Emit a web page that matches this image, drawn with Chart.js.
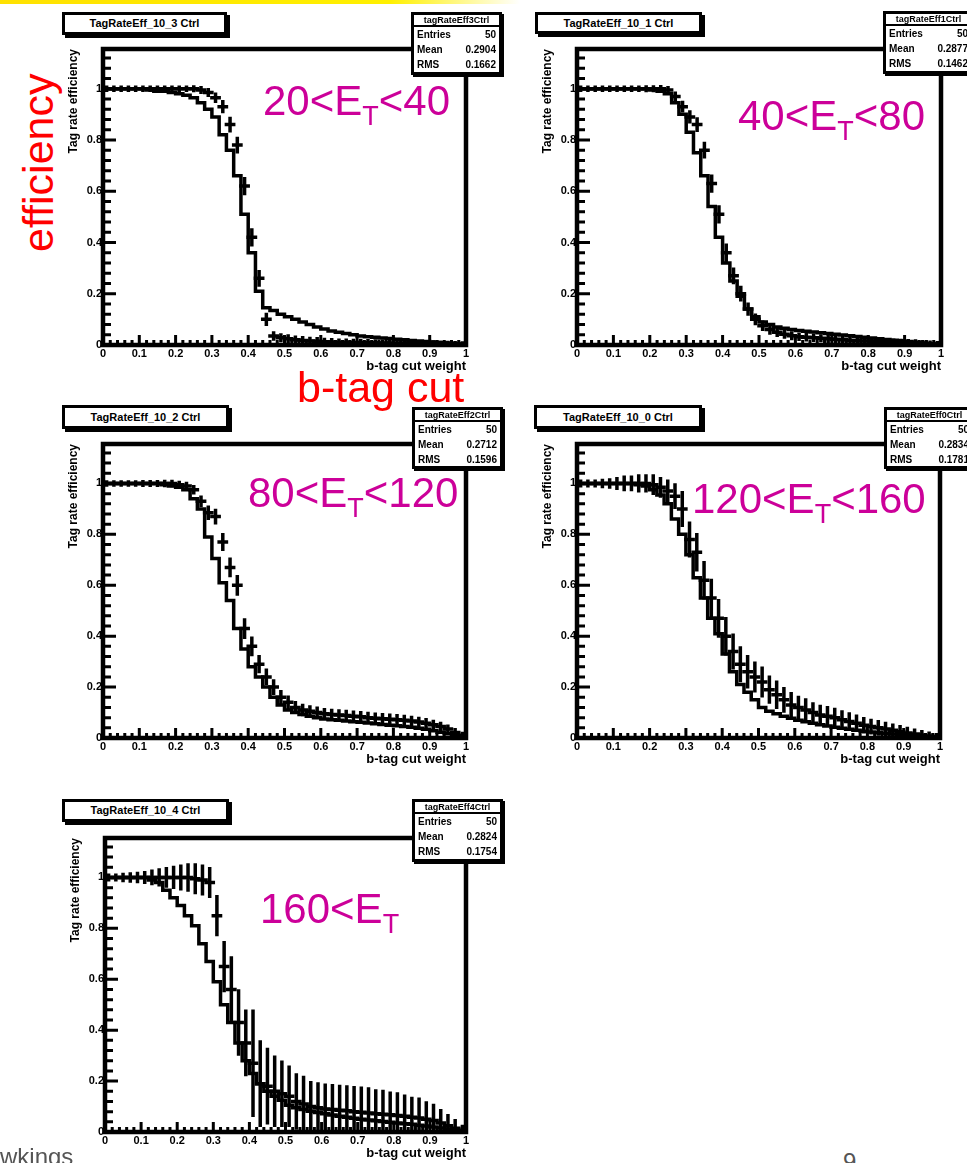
<!DOCTYPE html>
<html>
<head>
<meta charset="utf-8">
<script src="https://cdn.jsdelivr.net/npm/chart.js@4.4.1/dist/chart.umd.min.js"></script>
<style>
html,body{margin:0;padding:0;background:#fff;}
#slide{position:relative;width:967px;height:1163px;overflow:hidden;background:#fff;font-family:"Liberation Sans",Arial,sans-serif;}
#slide canvas{position:absolute;}
.topbar{position:absolute;left:0;top:0;width:520px;height:4px;background:linear-gradient(to right,#ffe100 0%,#fff000 75%,rgba(255,255,255,0) 100%);}
.tbox{position:absolute;box-sizing:border-box;border:3px solid #000;box-shadow:3px 3px 0 #000;background:#fff;font:bold 11px "Liberation Sans",Arial,sans-serif;text-align:center;white-space:nowrap;z-index:5;overflow:hidden;}
.sbox{position:absolute;box-sizing:border-box;border:3px solid #000;box-shadow:2px 2px 0 #000;background:#fff;font:bold 10px "Liberation Sans",Arial,sans-serif;z-index:5;padding:0 3px;white-space:nowrap;overflow:hidden;}
.sbox .h{border-bottom:2px solid #000;text-align:center;line-height:10px;margin:0 -3px;font-size:9px;}
.sbox .r{display:flex;justify-content:space-between;line-height:15px;}
.et{position:absolute;color:rgb(204,0,153);font:42px "Liberation Sans",Arial,sans-serif;line-height:42px;white-space:nowrap;z-index:6;}
.et span{font-size:27px;position:relative;top:10px;}
.red{position:absolute;color:#ff0000;font:43px "Liberation Sans",Arial,sans-serif;line-height:43px;white-space:nowrap;z-index:6;}
.foot{position:absolute;color:#555;font:24px "Liberation Sans",Arial,sans-serif;line-height:24px;white-space:nowrap;z-index:6;}
</style>
</head>
<body>
<div id="slide">
  <div class="topbar"></div>

  <div class="tbox" style="left:62px;top:12px;width:165px;height:23px;line-height:17px;">TagRateEff_10_3 Ctrl</div>
  <div class="tbox" style="left:535px;top:12px;width:167px;height:22px;line-height:16px;">TagRateEff_10_1 Ctrl</div>
  <div class="tbox" style="left:62px;top:405px;width:167px;height:24px;line-height:18px;">TagRateEff_10_2 Ctrl</div>
  <div class="tbox" style="left:534px;top:405px;width:168px;height:24px;line-height:18px;">TagRateEff_10_0 Ctrl</div>
  <div class="tbox" style="left:62px;top:799px;width:167px;height:23px;line-height:17px;">TagRateEff_10_4 Ctrl</div>

  <div class="sbox" style="left:411px;top:12px;width:91px;height:63px;">
    <div class="h">tagRateEff3Ctrl</div>
    <div class="r"><span>Entries</span><span>50</span></div>
    <div class="r"><span>Mean</span><span>0.2904</span></div>
    <div class="r"><span>RMS</span><span>0.1662</span></div>
  </div>
  <div class="sbox" style="left:883px;top:11px;width:91px;height:63px;">
    <div class="h">tagRateEff1Ctrl</div>
    <div class="r"><span>Entries</span><span>50</span></div>
    <div class="r"><span>Mean</span><span>0.2877</span></div>
    <div class="r"><span>RMS</span><span>0.1462</span></div>
  </div>
  <div class="sbox" style="left:412px;top:407px;width:91px;height:62px;">
    <div class="h">tagRateEff2Ctrl</div>
    <div class="r"><span>Entries</span><span>50</span></div>
    <div class="r"><span>Mean</span><span>0.2712</span></div>
    <div class="r"><span>RMS</span><span>0.1596</span></div>
  </div>
  <div class="sbox" style="left:884px;top:407px;width:91px;height:62px;">
    <div class="h">tagRateEff0Ctrl</div>
    <div class="r"><span>Entries</span><span>50</span></div>
    <div class="r"><span>Mean</span><span>0.2834</span></div>
    <div class="r"><span>RMS</span><span>0.1781</span></div>
  </div>
  <div class="sbox" style="left:412px;top:799px;width:91px;height:63px;">
    <div class="h">tagRateEff4Ctrl</div>
    <div class="r"><span>Entries</span><span>50</span></div>
    <div class="r"><span>Mean</span><span>0.2824</span></div>
    <div class="r"><span>RMS</span><span>0.1754</span></div>
  </div>

  <div class="et" style="left:263px;top:80px;">20&lt;E<span>T</span>&lt;40</div>
  <div class="et" style="left:738px;top:95px;">40&lt;E<span>T</span>&lt;80</div>
  <div class="et" style="left:248px;top:472px;">80&lt;E<span>T</span>&lt;120</div>
  <div class="et" style="left:692px;top:478px;">120&lt;E<span>T</span>&lt;160</div>
  <div class="et" style="left:260px;top:888px;">160&lt;E<span>T</span></div>

  <div class="red" style="left:17px;top:252px;transform-origin:0 0;transform:rotate(-90deg);">efficiency</div>
  <div class="red" style="left:297px;top:366px;">b-tag cut</div>

  <div class="foot" style="left:0px;top:1145px;">wkings</div>
  <div class="foot" style="left:843px;top:1150px;">9</div>
</div>

<script>
// ---------- axis categories / ticks ----------
const binLowEdges = [0.00,0.02,0.04,0.06,0.08,0.10,0.12,0.14,0.16,0.18,
                     0.20,0.22,0.24,0.26,0.28,0.30,0.32,0.34,0.36,0.38,
                     0.40,0.42,0.44,0.46,0.48,0.50,0.52,0.54,0.56,0.58,
                     0.60,0.62,0.64,0.66,0.68,0.70,0.72,0.74,0.76,0.78,
                     0.80,0.82,0.84,0.86,0.88,0.90,0.92,0.94,0.96,0.98];
const xAxisMax = 1;
const yAxisMax = 1.155;
const xTickValues = [0,0.1,0.2,0.3,0.4,0.5,0.6,0.7,0.8,0.9,1];
const xTickLabels = ["0","0.1","0.2","0.3","0.4","0.5","0.6","0.7","0.8","0.9","1"];
const yTickValues = [0,0.2,0.4,0.6,0.8,1];
const yTickLabels = ["0","0.2","0.4","0.6","0.8","1"];
const xTitle = "b-tag cut weight";
const yTitle = "Tag rate efficiency";

// ---------- 20 < ET < 40 ----------
const effA_20_40 = [1,1,1,1,1, 1,0.995,0.99,0.99,0.985,
  0.98,0.975,0.965,0.945,0.92, 0.89,0.82,0.76,0.66,0.51,
  0.36,0.21,0.145,0.135,0.12, 0.11,0.10,0.09,0.08,0.07,
  0.062,0.055,0.05,0.045,0.04, 0.035,0.032,0.03,0.027,0.025,
  0.022,0.02,0.018,0.016,0.014, 0.012,0.01,0.008,0.006,0.004];
const effB_20_40 = [1,1,1,1,1, 1,1,1,1,1,
  1,1,1,0.995,0.985, 0.965,0.93,0.86,0.78,0.62,
  0.42,0.26,0.1,0.035,0.028, 0.024,0.02,0.018,0.016,0.015,
  0.013,0.012,0.011,0.011,0.01, 0.01,0.009,0.009,0.008,0.008,
  0.007,0.007,0.006,0.006,0.005, 0.005,0.004,0.004,0.003,0.002];
const errB_20_40 = [0.002,0.002,0.002,0.002,0.002, 0.002,0.002,0.002,0.002,0.002,
  0.002,0.002,0.003,0.005,0.007, 0.01,0.015,0.02,0.022,0.025,
  0.025,0.022,0.015,0.008,0.007, 0.007,0.006,0.006,0.005,0.005,
  0.005,0.005,0.004,0.004,0.004, 0.004,0.004,0.003,0.003,0.003,
  0.003,0.003,0.003,0.003,0.003, 0.003,0.002,0.002,0.002,0.002];

// ---------- 40 < ET < 80 ----------
const effA_40_80 = [1,1,1,1,1, 1,1,1,1,1,
  0.995,0.99,0.98,0.945,0.9, 0.83,0.75,0.66,0.54,0.42,
  0.32,0.25,0.19,0.14,0.11, 0.09,0.08,0.07,0.065,0.06,
  0.057,0.054,0.051,0.048,0.045, 0.042,0.039,0.036,0.033,0.03,
  0.027,0.024,0.021,0.019,0.017, 0.014,0.011,0.008,0.005,0.003];
const effB_40_80 = [1,1,1,1,1, 1,1,1,1,1,
  1,1,0.995,0.97,0.93, 0.89,0.86,0.76,0.63,0.51,
  0.36,0.27,0.2,0.14,0.1, 0.075,0.06,0.05,0.042,0.036,
  0.032,0.03,0.028,0.026,0.024, 0.022,0.02,0.018,0.017,0.016,
  0.015,0.014,0.013,0.012,0.011, 0.01,0.009,0.007,0.005,0.003];
const errB_40_80 = [0.002,0.002,0.002,0.002,0.002, 0.002,0.002,0.002,0.002,0.003,
  0.003,0.004,0.005,0.008,0.012, 0.015,0.018,0.022,0.025,0.025,
  0.025,0.022,0.02,0.015,0.012, 0.01,0.009,0.008,0.007,0.007,
  0.006,0.006,0.006,0.005,0.005, 0.005,0.005,0.004,0.004,0.004,
  0.004,0.004,0.003,0.003,0.003, 0.003,0.003,0.002,0.002,0.002];

// ---------- 80 < ET < 120 ----------
const effA_80_120 = [1,1,1,1,1, 1,1,1,0.995,0.99,
  0.985,0.975,0.94,0.9,0.79, 0.705,0.61,0.54,0.43,0.35,
  0.28,0.24,0.2,0.16,0.13, 0.11,0.1,0.092,0.085,0.08,
  0.075,0.072,0.07,0.067,0.064, 0.062,0.059,0.056,0.053,0.05,
  0.048,0.045,0.042,0.038,0.034, 0.028,0.023,0.017,0.01,0.004];
const effB_80_120 = [1,1,1,1,1, 1,1,1,1,1,
  0.995,0.99,0.975,0.93,0.885, 0.87,0.77,0.67,0.6,0.43,
  0.36,0.29,0.24,0.2,0.16, 0.14,0.12,0.11,0.105,0.1,
  0.095,0.092,0.09,0.088,0.085, 0.083,0.08,0.078,0.076,0.074,
  0.072,0.07,0.067,0.063,0.058, 0.052,0.045,0.035,0.022,0.01];
const errB_80_120 = [0.002,0.002,0.002,0.002,0.002, 0.003,0.003,0.003,0.004,0.004,
  0.005,0.006,0.008,0.012,0.018, 0.02,0.025,0.028,0.03,0.03,
  0.028,0.025,0.022,0.02,0.018, 0.016,0.015,0.014,0.013,0.013,
  0.012,0.012,0.012,0.012,0.012, 0.012,0.012,0.011,0.011,0.011,
  0.011,0.011,0.01,0.01,0.01, 0.009,0.008,0.007,0.006,0.004];

// ---------- 120 < ET < 160 ----------
const effA_120_160 = [1,1,1,1,1, 1,1,1,0.995,0.99,
  0.975,0.955,0.92,0.86,0.8, 0.72,0.63,0.55,0.47,0.41,
  0.33,0.26,0.21,0.18,0.15, 0.12,0.105,0.095,0.085,0.078,
  0.07,0.064,0.058,0.052,0.047, 0.042,0.038,0.034,0.03,0.027,
  0.024,0.021,0.018,0.016,0.014, 0.012,0.01,0.008,0.005,0.003];
const effB_120_160 = [1,1,1,1,1, 1,1,1,1,1,
  0.995,0.985,0.97,0.95,0.9, 0.78,0.73,0.62,0.55,0.47,
  0.4,0.34,0.29,0.26,0.24, 0.22,0.19,0.17,0.15,0.13,
  0.12,0.11,0.1,0.09,0.085, 0.08,0.072,0.065,0.058,0.05,
  0.045,0.04,0.035,0.03,0.025, 0.02,0.016,0.012,0.008,0.004];
const errB_120_160 = [0.005,0.005,0.005,0.008,0.01, 0.015,0.02,0.02,0.025,0.025,
  0.03,0.03,0.035,0.04,0.06, 0.06,0.065,0.065,0.065,0.065,
  0.065,0.06,0.06,0.055,0.05, 0.05,0.045,0.045,0.04,0.04,
  0.035,0.035,0.03,0.03,0.03, 0.028,0.026,0.025,0.024,0.022,
  0.02,0.02,0.018,0.016,0.015, 0.013,0.011,0.009,0.007,0.005];

// ---------- 160 < ET ----------
const effA_160 = [1,1,1,1,1, 1,0.99,0.98,0.95,0.92,
  0.89,0.85,0.81,0.74,0.67, 0.59,0.5,0.43,0.35,0.28,
  0.23,0.19,0.16,0.14,0.125, 0.105,0.095,0.088,0.082,0.077,
  0.072,0.067,0.062,0.058,0.054, 0.05,0.047,0.044,0.041,0.038,
  0.035,0.032,0.03,0.027,0.024, 0.02,0.016,0.012,0.008,0.004];
const effB_160 = [1,1,1,1,1, 1,1,1,1,1,
  1,1,0.995,0.99,0.98, 0.85,0.65,0.56,0.43,0.35,
  0.27,0.19,0.18,0.16,0.15, 0.14,0.12,0.11,0.1,0.095,
  0.09,0.088,0.085,0.083,0.08, 0.078,0.075,0.072,0.07,0.068,
  0.065,0.062,0.058,0.055,0.05, 0.045,0.035,0.025,0.015,0.006];
const errB_160 = [0.005,0.005,0.008,0.01,0.012, 0.015,0.02,0.025,0.03,0.035,
  0.04,0.045,0.05,0.05,0.05, 0.07,0.09,0.12,0.12,0.12,
  0.2,0.16,0.14,0.13,0.12, 0.11,0.1,0.1,0.09,0.09,
  0.09,0.09,0.09,0.09,0.09, 0.09,0.09,0.085,0.085,0.08,
  0.08,0.075,0.07,0.07,0.06, 0.055,0.045,0.035,0.025,0.012];

// ---------- plugins ----------
const crossPlugin = {
  id: 'rootCrosses',
  afterDatasetsDraw(chart) {
    const {ctx, chartArea: ca, scales: {x, y}} = chart;
    ctx.save();
    ctx.beginPath(); ctx.rect(ca.left, ca.top, ca.width, ca.height); ctx.clip();
    chart.data.datasets.forEach((ds, di) => {
      if (!ds.errors) return;
      const meta = chart.getDatasetMeta(di);
      ctx.strokeStyle = ds.crossColor; ctx.lineWidth = ds.crossWidth; ctx.lineCap = 'square';
      meta.data.forEach((el, i) => {
        const v = ds.data[i].y, e = ds.errors[i];
        const x0 = x.getPixelForValue(ds.binLow[i]);
        const x1 = x.getPixelForValue(ds.binLow[i] + ds.binWidth);
        ctx.beginPath();
        ctx.moveTo(x0, el.y); ctx.lineTo(x1, el.y);
        ctx.moveTo(el.x, y.getPixelForValue(v - e) + 1); ctx.lineTo(el.x, y.getPixelForValue(v + e) - 1);
        ctx.stroke();
      });
    });
    ctx.restore();
  }
};
const framePlugin = {
  id: 'rootFrame',
  afterDraw(chart) {
    const {ctx, chartArea: ca, scales: {x, y}} = chart;
    ctx.save();
    ctx.strokeStyle = '#000'; ctx.lineCap = 'butt';
    ctx.lineWidth = 3;
    ctx.beginPath();
    const yMinorStep = (yTickValues[1] - yTickValues[0]) / 5;
    const nY = Math.floor(y.max / yMinorStep + 1e-6);
    for (let k = 0; k <= nY; k++) {
      const py = y.getPixelForValue(k * yMinorStep);
      const len = (k % 5 === 0) ? 13 : 8;
      ctx.moveTo(ca.left, py); ctx.lineTo(ca.left + len, py);
    }
    const xMinorStep = (xTickValues[1] - xTickValues[0]) / 5;
    const nX = Math.round(x.max / xMinorStep);
    for (let k = 0; k <= nX; k++) {
      const px = x.getPixelForValue(k * xMinorStep);
      const len = (k % 5 === 0) ? 10 : 5;
      ctx.moveTo(px, ca.bottom); ctx.lineTo(px, ca.bottom - len);
    }
    ctx.stroke();
    ctx.lineWidth = 4.5;
    ctx.strokeRect(ca.left, ca.top, ca.width, ca.height);
    ctx.restore();
  }
};

// ---------- panels (layout only) ----------
const panels = [
  {left:103, top:49,  w:363, h:296, A:effA_20_40,   B:effB_20_40,   E:errB_20_40},
  {left:577, top:49,  w:364, h:296, A:effA_40_80,   B:effB_40_80,   E:errB_40_80},
  {left:103, top:444, w:363, h:294, A:effA_80_120,  B:effB_80_120,  E:errB_80_120},
  {left:577, top:444, w:363, h:294, A:effA_120_160, B:effB_120_160, E:errB_120_160},
  {left:105, top:838, w:361, h:294, A:effA_160,     B:effB_160,     E:errB_160}
];

const YW = 40, PT = 8, PR = 8, XH = 32;
const slide = document.getElementById('slide');
const binWidth = binLowEdges[1] - binLowEdges[0];

panels.forEach((p, idx) => {
  const cv = document.createElement('canvas');
  cv.width = YW + p.w + PR;
  cv.height = PT + p.h + XH;
  cv.style.left = (p.left - YW) + 'px';
  cv.style.top = (p.top - PT) + 'px';
  cv.style.width = cv.width + 'px';
  cv.style.height = cv.height + 'px';
  slide.appendChild(cv);

  const stepData = binLowEdges.map((e, i) => ({x: e, y: p.A[i]}));
  stepData.push({x: xAxisMax, y: p.A[p.A.length - 1]});
  const crossData = binLowEdges.map((e, i) => ({x: e + binWidth / 2, y: p.B[i]}));

  new Chart(cv, {
    type: 'line',
    data: {
      datasets: [
        {label: 'histogram', data: stepData, stepped: true, borderColor: '#000', borderWidth: 3.5,
         pointRadius: 0, fill: false, tension: 0},
        {label: 'with errors', data: crossData, showLine: false, pointRadius: 0, borderColor: '#000',
         crossColor: '#000', crossWidth: 3.5, errors: p.E, binLow: binLowEdges, binWidth: binWidth}
      ]
    },
    options: {
      responsive: false,
      animation: false,
      devicePixelRatio: 1,
      layout: {padding: {left: 0, top: PT, right: PR, bottom: 0}},
      plugins: {legend: {display: false}, tooltip: {enabled: false}},
      scales: {
        x: {
          type: 'linear', min: 0, max: xAxisMax,
          afterBuildTicks: s => { s.ticks = xTickValues.map(v => ({value: v})); },
          afterFit: s => { s.height = XH; },
          grid: {display: false, drawTicks: false},
          border: {display: false},
          ticks: {autoSkip: false, maxRotation: 0, padding: 2, color: '#000',
                  font: {family: 'Liberation Sans', size: 11, weight: 'bold'},
                  callback: (v, i) => xTickLabels[i]},
          title: {display: true, text: xTitle, align: 'end', color: '#000',
                  font: {family: 'Liberation Sans', size: 13, weight: 'bold'},
                  padding: {top: 0, bottom: 3}}
        },
        y: {
          type: 'linear', min: 0, max: yAxisMax,
          afterBuildTicks: s => { s.ticks = yTickValues.map(v => ({value: v})); },
          afterFit: s => { s.width = YW; },
          grid: {display: false, drawTicks: false},
          border: {display: false},
          ticks: {padding: 1, color: '#000',
                  font: {family: 'Liberation Sans', size: 11, weight: 'bold'},
                  callback: (v, i) => yTickLabels[i]},
          title: {display: true, text: yTitle, align: 'end', color: '#000',
                  font: {family: 'Liberation Sans', size: 12, weight: 'bold'},
                  padding: {top: 3, bottom: 0}}
        }
      }
    },
    plugins: [crossPlugin, framePlugin]
  });
});
</script>
</body>
</html>
